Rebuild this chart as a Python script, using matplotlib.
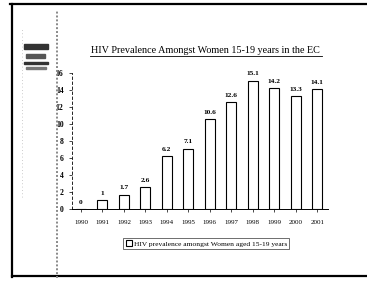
import matplotlib.pyplot as plt
from matplotlib.lines import Line2D
from matplotlib.patches import Rectangle

years = ["1990", "1991", "1992", "1993", "1994", "1995", "1996",
         "1997", "1998", "1999", "2000", "2001"]
prevalence = [0, 1, 1.7, 2.6, 6.2, 7.1, 10.6, 12.6, 15.1, 14.2, 13.3, 14.1]
value_labels = ["0", "1", "1.7", "2.6", "6.2", "7.1", "10.6", "12.6",
                "15.1", "14.2", "13.3", "14.1"]
y_ticks = [0, 2, 4, 6, 8, 10, 12, 14, 16]

plt.rcParams['font.family'] = ['Liberation Serif', 'DejaVu Serif']

fig = plt.figure(figsize=(3.67, 2.82), dpi=100)
fig.patch.set_facecolor("white")

# scanned page frame
fig.add_artist(Line2D([0.027, 1.0], [0.986, 0.986], color="black", lw=1.6))
fig.add_artist(Line2D([0.033, 0.033], [0.018, 0.986], color="black", lw=1.6))
fig.add_artist(Line2D([0.033, 1.0], [0.021, 0.021], color="black", lw=1.6))
fig.add_artist(Line2D([0.155, 0.155], [0.015, 0.96], color="#888888", lw=1.4, ls=(0, (1, 1))))
fig.add_artist(Line2D([0.06, 0.06], [0.3, 0.9], color="#bbbbbb", lw=0.6, ls=(0, (1, 3))))

# logo blocks
fig.add_artist(Rectangle((0.065, 0.825), 0.065, 0.018, color="#333333"))
fig.add_artist(Rectangle((0.072, 0.795), 0.05, 0.012, color="#555555"))
fig.add_artist(Rectangle((0.065, 0.772), 0.065, 0.008, color="#333333"))
fig.add_artist(Rectangle((0.07, 0.757), 0.055, 0.006, color="#777777"))

ax = fig.add_axes([0.196, 0.259, 0.698, 0.482])
x = range(len(years))
ax.bar(x, prevalence, width=0.47, color="white", edgecolor="black", linewidth=0.8,
       label="HIV prevalence amongst Women aged 15-19 years")
for i, v in enumerate(prevalence):
    ax.text(i, v + 0.5, value_labels[i], ha="center", va="bottom",
            fontsize=5.3, fontweight="bold")

ax.set_xlim(-0.42, 11.5)
ax.set_ylim(0, 16)
ax.set_xticks(list(x))
ax.set_xticklabels(years, fontsize=5)
ax.set_yticks(y_ticks)
ax.set_yticklabels([str(t) for t in y_ticks], fontsize=5.5, fontweight="bold")
ax.tick_params(axis="x", length=2, width=0.5, pad=6)
ax.tick_params(axis="y", length=2, width=0.5, pad=4)
for s in ["top", "right"]:
    ax.spines[s].set_visible(False)
ax.spines["left"].set_linestyle((0, (3, 3)))
ax.spines["left"].set_linewidth(0.6)
ax.spines["bottom"].set_linewidth(0.7)

fig.text(0.561, 0.805, "HIV Prevalence Amongst Women 15-19 years in the EC",
         ha="center", va="bottom", fontsize=7.3)
fig.add_artist(Line2D([0.245, 0.877], [0.8, 0.8], color="black", lw=0.6))

leg = ax.legend(loc="upper center", bbox_to_anchor=(0.525, -0.213), fontsize=5.4,
                frameon=True, fancybox=False, handlelength=0.8, handleheight=0.8,
                borderpad=0.3, handletextpad=0.3, borderaxespad=0)
leg.get_frame().set_edgecolor("black")
leg.get_frame().set_linewidth(0.5)

fig.savefig("out.png", dpi=100)
